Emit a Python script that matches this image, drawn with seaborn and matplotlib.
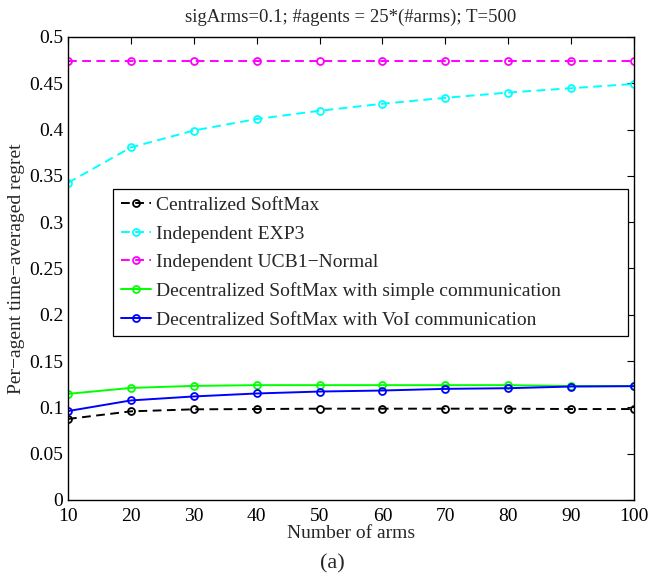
import matplotlib
matplotlib.use("Agg")
import matplotlib.pyplot as plt
import seaborn as sns
import numpy as np

arms = [10, 20, 30, 40, 50, 60, 70, 80, 90, 100]
centralized = [0.0875, 0.0957, 0.0979, 0.0982, 0.0986, 0.0986, 0.0986, 0.0986, 0.0982, 0.0982]
exp3 = [0.3425, 0.3807, 0.399, 0.4114, 0.4203, 0.4279, 0.4343, 0.44, 0.4447, 0.4493]
ucb = [0.474] * 10
simple_comm = [0.1146, 0.121, 0.1232, 0.124, 0.124, 0.124, 0.124, 0.124, 0.123, 0.123]
voi_comm = [0.096, 0.1075, 0.1118, 0.115, 0.1171, 0.1182, 0.12, 0.1207, 0.1225, 0.1229]

labels = ["Centralized SoftMax", "Independent EXP3", "Independent UCB1\u2212Normal",
          "Decentralized SoftMax with simple communication",
          "Decentralized SoftMax with VoI communication"]
colors = ["black", "cyan", "magenta", "#00ff00", "blue"]
styles = [(0, (4.5, 2.8)), (0, (4.5, 2.8)), (0, (4.5, 2.8)), "-", "-"]
series = [centralized, exp3, ucb, simple_comm, voi_comm]

sns.set_style("white")
plt.rcParams['font.family'] = ['Liberation Serif', 'DejaVu Serif']

fig = plt.figure(figsize=(6.5, 5.78), dpi=100)
ax = fig.add_axes([0.1046, 0.135, 0.8708, 0.801])

for y, lab, c, ls in zip(series, labels, colors, styles):
    sns.lineplot(x=arms, y=y, ax=ax, color=c, linestyle=ls, linewidth=1.4,
                 marker='o', markersize=5, markerfacecolor='none', markeredgecolor=c,
                 markeredgewidth=1.3, label=lab)

ax.set_xlim(10, 100)
ax.set_ylim(0, 0.5)
ax.set_xticks(arms)
ax.set_yticks([0, 0.05, 0.1, 0.15, 0.2, 0.25, 0.3, 0.35, 0.4, 0.45, 0.5])
ax.set_yticklabels(["0", "0.05", "0.1", "0.15", "0.2", "0.25", "0.3", "0.35", "0.4", "0.45", "0.5"])
ax.tick_params(direction='in', top=True, right=True, length=5, width=0.8, labelsize=14,
               colors='black')
ax.tick_params(axis='x', pad=6)
ax.tick_params(axis='y', pad=3.5)
for s in ax.spines.values():
    s.set_visible(True)
    s.set_color('black')
    s.set_linewidth(1.0)

ax.set_title("sigArms=0.1; #agents = 25*(#arms); T=500", fontsize=13.5, pad=11)
ax.set_xlabel("Number of arms", fontsize=14, labelpad=0)
ax.set_ylabel("Per\u2212agent time\u2212averaged regret", fontsize=14, labelpad=3)
fig.text(0.512, 0.024, "(a)", ha='center', va='center', fontsize=16)

leg = ax.legend(loc='upper left', bbox_to_anchor=(0.0795, 0.672, 0.91, 0.0), mode='expand',
                fontsize=14, frameon=True,
                fancybox=False, edgecolor='black', framealpha=1, handlelength=1.55,
                handletextpad=0.25, borderpad=0.4, labelspacing=0.56, borderaxespad=0)
leg.get_frame().set_linewidth(0.9)

fig.savefig("out.png", dpi=100)
